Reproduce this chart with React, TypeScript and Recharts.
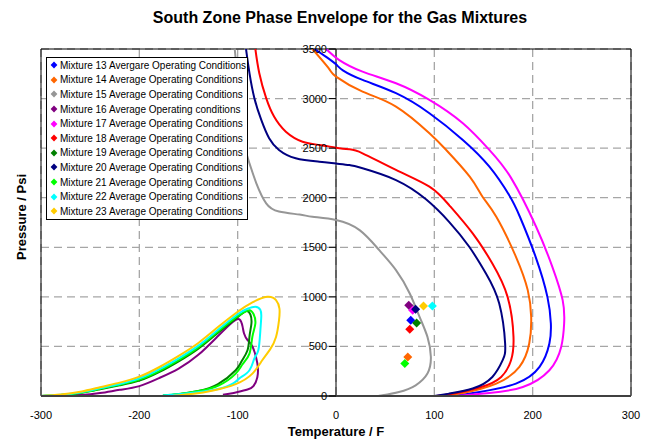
import React from 'react';
import {
  ComposedChart,
  Line,
  Scatter,
  XAxis,
  YAxis,
  CartesianGrid,
  Legend,
  ReferenceLine,
  ReferenceArea,
} from 'recharts';

// legend names and colours, mixtures 13..23
const mixtureNames = [
  'Mixture 13 Avergare Operating Conditions',
  'Mixture 14 Average Operating Conditions',
  'Mixture 15 Average Operating Conditions',
  'Mixture 16 Average Operating conditions',
  'Mixture 17 Average Operating Conditions',
  'Mixture 18 Average Operating Conditions',
  'Mixture 19 Average Operating Conditions',
  'Mixture 20 Average Operating Conditions',
  'Mixture 21 Average Operating Conditions',
  'Mixture 22 Average Operating Conditions',
  'Mixture 23 Average Operating Conditions',
];
const mixtureColors = [
  '#0000FF', '#FF6600', '#969696', '#800080', '#FF00FF', '#FF0000',
  '#008000', '#000080', '#00FF00', '#00FFFF', '#FFCC00',
];

// average operating conditions (temperature F, pressure psi)
const opTemp = [76, 73, 78, 74, 78, 75, 82, 81, 70, 98, 89];
const opPress = [765, 394, 880, 916, 866, 674, 737, 876, 327, 909, 909];

// phase envelopes, [temperature, pressure]
const env13: [number, number][] = [
  [-22, 3500], [-10, 3420], [0, 3345], [7, 3285], [27, 3188], [61, 3054], [95, 2852],
  [129, 2583], [156, 2313], [176, 2027], [187, 1808], [203, 1404], [215, 1000],
  [218.5, 731], [217, 529], [207, 293], [183, 125], [146, 40], [125, 7], [122, 0],
];
const env14: [number, number][] = [
  [-24, 3500], [-7, 3300], [0, 3222], [27, 3070], [61, 2919], [95, 2650], [112, 2482],
  [136, 2212], [149, 2010], [163, 1808], [183, 1404], [195, 1068], [198.5, 798],
  [196.5, 529], [186.5, 293], [163, 125], [129, 30], [110, 3], [106, 0],
];
const env15: [number, number][] = [
  [-103, 3500], [-100, 3200], [-97, 2900], [-93, 2540], [-88, 2347], [-81, 2145],
  [-71, 1943], [-58, 1860], [-37, 1830], [-24, 1808], [0, 1775], [24, 1673], [44, 1471],
  [61, 1270], [75, 1034], [85, 798], [93, 596], [96.5, 394], [93, 226], [81, 108],
  [64, 40], [46, 5], [44, 0],
];
const env16: [number, number][] = [
  [-300, 0], [-280, 2], [-260, 10], [-240, 30], [-220, 62], [-200, 100], [-180, 180],
  [-160, 277], [-140, 415], [-120, 605], [-105, 747], [-98, 771], [-95, 700], [-93.5, 630],
  [-90, 565], [-85, 500], [-80, 330], [-80, 190], [-84, 100], [-90, 65], [-100, 40],
  [-107, 25], [-115, 12],
];
const env17: [number, number][] = [
  [-10, 3500], [3, 3391], [27, 3272], [61, 3155], [95, 2987], [129, 2751], [156, 2482],
  [178, 2200], [203.5, 1707], [220, 1303], [230.5, 967], [232, 731], [229, 495],
  [217, 260], [190, 91], [156, 30], [128, 5], [125, 0],
];
const env18: [number, number][] = [
  [-82, 3500], [-78, 3256], [-71, 3004], [-63, 2818], [-51, 2666], [-34, 2565],
  [-17, 2532], [0, 2505], [13.5, 2488], [27, 2448], [61, 2280], [95, 2111], [115, 1926],
  [139, 1640], [159, 1337], [174.5, 1000], [180.5, 596], [178, 361], [168, 192],
  [146, 85], [115, 17], [102, 0],
];
const env19: [number, number][] = [
  [-300, 0], [-280, 9], [-260, 30], [-240, 68], [-220, 108], [-200, 155], [-180, 240],
  [-160, 350], [-140, 478], [-120, 638], [-100, 795], [-91, 858], [-87, 820], [-86, 731],
  [-88, 600], [-90, 461], [-96, 350], [-102, 260], [-120, 120], [-140, 50], [-160, 18],
  [-176, 4],
];
const env20: [number, number][] = [
  [-91.5, 3500], [-88, 3256], [-83, 3004], [-76, 2785], [-68, 2600], [-58, 2482],
  [-41, 2398], [-17, 2363], [0, 2345], [13.5, 2330], [27, 2297], [61, 2178], [91.5, 1984],
  [115, 1757], [135.5, 1505], [152.5, 1236], [166, 933], [172, 529], [169.5, 361],
  [159, 192], [139, 75], [115, 24], [100, 0],
];
const env21: [number, number][] = [
  [-300, 0], [-280, 10], [-260, 32], [-240, 72], [-220, 114], [-200, 165], [-180, 252],
  [-160, 362], [-140, 490], [-120, 650], [-100, 805], [-92, 852], [-88, 866], [-84, 830],
  [-82, 731], [-85, 600], [-88, 428], [-95, 320], [-102, 226], [-119, 108], [-140, 50],
  [-160, 20], [-176, 5],
];
const env22: [number, number][] = [
  [-300, 0], [-280, 12], [-260, 36], [-240, 78], [-220, 122], [-200, 178], [-180, 268],
  [-160, 380], [-140, 508], [-120, 668], [-100, 825], [-90, 880], [-82, 900], [-77, 870],
  [-76, 800], [-77, 650], [-79, 461], [-83, 380], [-88, 260], [-98, 180], [-105, 125],
  [-120, 70], [-139, 40], [-160, 18], [-176, 5],
];
const env23: [number, number][] = [
  [-300, 0], [-280, 15], [-260, 42], [-240, 88], [-220, 135], [-200, 195], [-180, 290],
  [-160, 405], [-140, 535], [-120, 695], [-100, 850], [-85, 945], [-70, 1000], [-61, 967],
  [-57.5, 880], [-58, 760], [-61, 596], [-67, 470], [-75, 360], [-85, 226], [-102, 120],
  [-125, 55], [-145, 22], [-163, 5], [-165, 0],
];
const envelopes = [env13, env14, env15, env16, env17, env18, env19, env20, env21, env22, env23];

const xTicks = [-300, -200, -100, 0, 100, 200, 300];
const yTicks = [0, 500, 1000, 1500, 2000, 2500, 3000, 3500];

const FONT = '"Liberation Sans", Arial, sans-serif';
const Y_AXIS_X = 336; // pixel position of T = 0

const toPoints = (arr: [number, number][]) => arr.map(([t, p]) => ({ t, p }));

const Diamond = (props: any) => {
  const { cx, cy, fill } = props;
  const r = 4.5;
  return (
    <polygon
      points={`${cx},${cy - r} ${cx + r},${cy} ${cx},${cy + r} ${cx - r},${cy}`}
      fill={fill}
    />
  );
};

const PressureTick = (props: any) => {
  const { y, payload } = props;
  return (
    <g>
      <line x1={Y_AXIS_X - 7} x2={Y_AXIS_X} y1={y} y2={y} stroke="#000" />
      <text x={Y_AXIS_X - 9} y={y} dy={4} textAnchor="end" fontSize={11} fill="#000">
        {payload.value}
      </text>
    </g>
  );
};

const renderLegend = (props: any) => {
  // only the operating-condition markers are listed
  const items = (props.payload || []).filter((e: any) => mixtureNames.includes(e.value));
  return (
    <div
      style={{
        border: '1px solid #000',
        background: '#fff',
        width: 200,
        fontFamily: FONT,
        fontSize: 10,
        color: '#000',
      }}
    >
      {items.map((entry: any) => (
        <div
          key={entry.value}
          style={{ height: 14.6, display: 'flex', alignItems: 'center', whiteSpace: 'nowrap' }}
        >
          <svg width={12} height={10} style={{ marginLeft: 1 }}>
            <polygon points="6,1.6 9.4,5 6,8.4 2.6,5" fill={entry.color} />
          </svg>
          <span>{entry.value}</span>
        </div>
      ))}
    </div>
  );
};

export default function App() {
  return (
    <div style={{ position: 'absolute', left: 0, top: 0, width: 654, height: 439, background: '#fff', fontFamily: FONT }}>
      <div
        style={{
          position: 'absolute',
          left: 340,
          top: 9,
          transform: 'translateX(-50%)',
          fontSize: 16,
          fontWeight: 'bold',
          whiteSpace: 'nowrap',
        }}
      >
        South Zone Phase Envelope for the Gas Mixtures
      </div>
      <div
        style={{
          position: 'absolute',
          left: 21,
          top: 217,
          transform: 'translate(-50%, -50%) rotate(-90deg)',
          fontSize: 13,
          fontWeight: 'bold',
          whiteSpace: 'nowrap',
        }}
      >
        Pressure / Psi
      </div>
      <ComposedChart width={654} height={439} margin={{ top: 49, right: 23, left: 11, bottom: 0 }}>
        <CartesianGrid strokeDasharray="8 5" stroke="#a6a6a6" strokeWidth={1.3} />
        <XAxis
          type="number"
          dataKey="t"
          domain={[-300, 300]}
          ticks={xTicks}
          allowDataOverflow
          height={43}
          tickLine={false}
          tickMargin={9}
          axisLine={{ stroke: '#404040', strokeWidth: 2 }}
          tick={{ fill: '#000', fontSize: 11 }}
          label={{
            value: 'Temperature / F',
            position: 'insideBottom',
            offset: 3,
            style: { fontWeight: 'bold', fontSize: 13, fill: '#000' },
          }}
        />
        <YAxis
          type="number"
          dataKey="p"
          domain={[0, 3500]}
          ticks={yTicks}
          allowDataOverflow
          width={30}
          axisLine={false}
          tickLine={false}
          tick={<PressureTick />}
        />
        <ReferenceArea x1={-300} x2={300} y1={0} y2={3500} fill="none" stroke="#000" />
        <ReferenceLine x={0} stroke="#000" />
        {envelopes.map((env, i) => (
          <Line
            key={`env${i}`}
            data={toPoints(env)}
            dataKey="p"
            type="natural"
            stroke={mixtureColors[i]}
            strokeWidth={2}
            dot={false}
            legendType="none"
            isAnimationActive={false}
          />
        ))}
        {mixtureNames.map((name, i) => (
          <Scatter
            key={name}
            name={name}
            data={[{ t: opTemp[i], p: opPress[i] }]}
            fill={mixtureColors[i]}
            shape={Diamond}
            isAnimationActive={false}
          />
        ))}
        <Legend
          layout="vertical"
          align="center"
          verticalAlign="middle"
          content={renderLegend}
          wrapperStyle={{ left: 46, top: 57, width: 'auto', height: 'auto' }}
        />
      </ComposedChart>
    </div>
  );
}
